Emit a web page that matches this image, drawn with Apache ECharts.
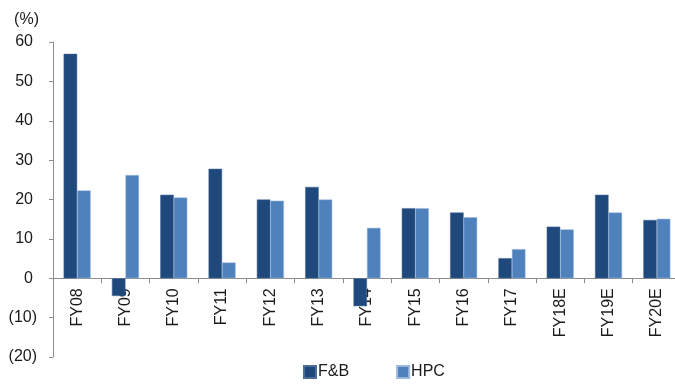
<!DOCTYPE html>
<html>
<head>
<meta charset="utf-8">
<script src="https://cdn.jsdelivr.net/npm/echarts@6/dist/echarts.min.js"></script>
<style>
  html, body { margin: 0; padding: 0; background: #fff; }
  #chart { width: 675px; height: 388px; }
</style>
</head>
<body>
<div id="chart"></div>
<script>
// Fiscal years on the category axis
var categories = ['FY08', 'FY09', 'FY10', 'FY11', 'FY12', 'FY13', 'FY14',
                  'FY15', 'FY16', 'FY17', 'FY18E', 'FY19E', 'FY20E'];
// Growth by segment, %
var fbValues  = [57.0, -4.5, 21.2, 27.8, 20.0, 23.2, -7.1, 17.8, 16.7, 5.1, 13.1, 21.2, 14.8];
var hpcValues = [22.3, 26.2, 20.5,  4.0, 19.7, 20.0, 12.8, 17.8, 15.5, 7.4, 12.4, 16.7, 15.1];
var seriesNames = ['F&B', 'HPC'];

var Y_MIN = -20, Y_MAX = 60;
var FONT = 'Liberation Sans, Arial, sans-serif';
var AXIS_GREY = '#8c8c8c';
var TEXT = '#1a1a1a';

var GRID = { left: 53, right: -6, top: 42, bottom: 31 };
var plotHeight = 388 - GRID.top - GRID.bottom;
// lift the category axis up to the zero line of the value axis
var zeroOffset = -plotHeight * (0 - Y_MIN) / (Y_MAX - Y_MIN);

var chart = echarts.init(document.getElementById('chart'), null, { renderer: 'canvas' });

chart.setOption({
  animation: false,
  textStyle: { fontFamily: FONT },
  grid: {
    left: GRID.left, right: GRID.right, top: GRID.top, bottom: GRID.bottom,
    containLabel: false,
    outerBoundsMode: 'none'
  },
  legend: {
    data: seriesNames,
    bottom: 3,
    left: 298,
    itemWidth: 12,
    itemHeight: 12,
    itemGap: 47,
    icon: 'rect',
    textStyle: { fontFamily: FONT, fontSize: 16, color: TEXT, padding: [0, 0, 0, -3] }
  },
  xAxis: {
    type: 'category',
    data: categories,
    position: 'bottom',
    offset: zeroOffset,
    axisLine: { onZero: false, lineStyle: { color: AXIS_GREY, width: 1 } },
    axisTick: { show: true, length: 5, lineStyle: { color: AXIS_GREY } },
    axisLabel: {
      rotate: 90,
      margin: 10,
      fontSize: 16,
      fontFamily: FONT,
      color: TEXT
    }
  },
  yAxis: {
    type: 'value',
    min: Y_MIN,
    max: Y_MAX,
    interval: 10,
    name: '(%)',
    nameLocation: 'end',
    nameGap: 14,
    nameTextStyle: { fontFamily: FONT, fontSize: 16, color: TEXT, align: 'right', padding: [0, 14, 0, 0] },
    splitLine: { show: false },
    axisLine: { show: true, lineStyle: { color: AXIS_GREY, width: 1 } },
    axisTick: { show: true, length: 4, lineStyle: { color: AXIS_GREY } },
    axisLabel: {
      margin: 16,
      fontSize: 16,
      fontFamily: FONT,
      color: TEXT,
      // negatives in brackets; positives padded to line up with the closing bracket
      formatter: function (v) {
        return v < 0 ? '(' + Math.abs(v) + ')' : '{pos|' + v + '}';
      },
      rich: {
        pos: { fontFamily: FONT, fontSize: 16, color: TEXT, padding: [0, 4, 0, 0] }
      }
    }
  },
  series: [
    {
      name: seriesNames[0],
      type: 'bar',
      zlevel: 1,
      data: fbValues,
      barGap: '0%',
      barCategoryGap: '44%',
      itemStyle: { color: '#1f497d', borderColor: '#4a6d99', borderWidth: 0.5 }
    },
    {
      name: seriesNames[1],
      type: 'bar',
      zlevel: 1,
      data: hpcValues,
      itemStyle: { color: '#4f81bd', borderColor: '#9bb9dd', borderWidth: 0.5 }
    }
  ]
});
</script>
</body>
</html>
